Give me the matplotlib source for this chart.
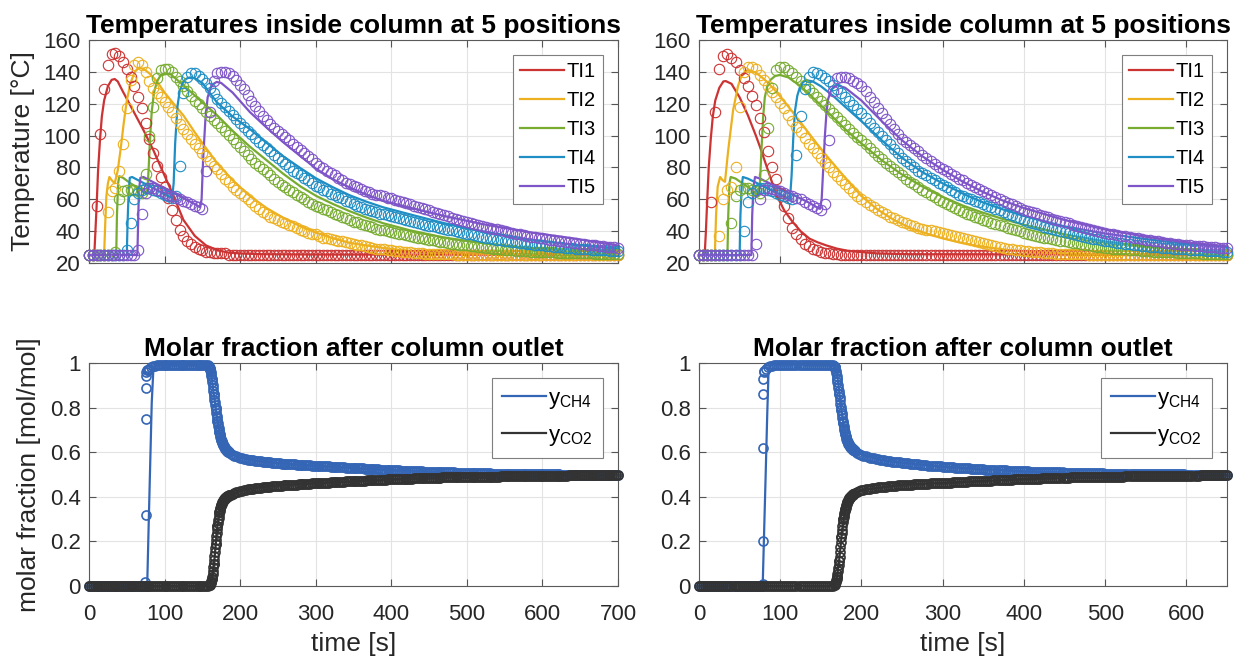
import numpy as np
import matplotlib
matplotlib.use("Agg")
import matplotlib.pyplot as plt

plt.rcParams["font.family"] = ["Liberation Sans", "DejaVu Sans"]
plt.rcParams["mathtext.default"] = "regular"

# ------------------------------------------------------------------
# Data
# ------------------------------------------------------------------
sensor_names = ["TI1", "TI2", "TI3", "TI4", "TI5"]
sensor_colors = ["#CC3333", "#EDB120", "#77AC30", "#1F8EC4", "#7E55C8"]
ch4_color = "#3566B5"
co2_color = "#333333"

dt_temp = 5.0    # sampling interval of the thermocouples [s]
dt_frac = 2.5    # sampling interval of the gas analyser [s]
dt_fast = 0.5    # analyser interval while the outlet composition changes quickly [s]

# ---- Run A (0-700 s): measured temperatures [degC] ----
ti1_meas_a = [25, 25, 56, 101, 129, 144, 151, 152, 150, 146, 142, 137, 131, 124, 117, 108, 98, 89, 81, 74,
              68, 61, 53, 47, 41, 37, 34, 32, 30, 29, 28, 27, 27, 26, 26, 26, 26, 25, 25, 25,
              25, 25, 25, 25, 25, 25, 25, 25, 25, 25, 25, 25, 25, 25, 25, 25, 25, 25, 25, 25,
              25, 25, 25, 25, 25, 25, 25, 25, 25, 25, 25, 25, 25, 25, 25, 25, 25, 25, 25, 25,
              25, 25, 25, 25, 25, 25, 25, 25, 25, 25, 25, 25, 25, 25, 25, 25, 25, 25, 25, 25,
              25, 25, 25, 25, 25, 25, 25, 25, 25, 25, 25, 25, 25, 25, 25, 25, 25, 25, 25, 25,
              25, 25, 25, 25, 25, 25, 25, 25, 25, 25, 25, 25, 25, 25, 25, 25, 25, 25, 25, 25, 25]
ti2_meas_a = [25, 25, 25, 25, 25, 52, 65, 67, 78, 95, 117, 135, 144, 146, 144, 140, 134, 130, 127, 124,
              121, 118, 115, 111, 107, 104, 101, 98, 95, 92, 89, 87, 84, 81, 79, 76, 73, 71, 68, 66,
              64, 62, 60, 58, 56, 54, 52, 51, 49, 48, 47, 46, 45, 44, 43, 42, 41, 40, 39, 38.5,
              38, 37, 36, 35.5, 35, 34.5, 34, 33.5, 33, 32.5, 32, 31.5, 31, 30.5, 30, 29.5, 29, 28.8, 28.5, 28.2,
              28, 27.7, 27.4, 27.1, 26.8, 26.6, 26.4, 26.2, 26, 25.9, 25.8, 25.7, 25.6, 25.5, 25.5, 25.4, 25.4, 25.3, 25.3, 25.3,
              25, 25, 25, 25, 25, 25, 25, 25, 25, 25, 25, 25, 25, 25, 25, 25, 25, 25, 25, 25,
              25, 25, 25, 25, 25, 25, 25, 25, 25, 25, 25, 25, 25, 25, 25, 25, 25, 25, 25, 25, 25]
ti3_meas_a = [25, 25, 25, 25, 25, 25, 25, 27, 60, 65, 66, 66, 66, 65, 64, 76, 100, 118, 136, 141,
              142, 142, 140, 137, 134, 131, 128, 125, 122, 120, 117, 115, 112, 110, 108, 105.5, 103, 100.5, 98, 95.5,
              93, 90.5, 88, 85.5, 83, 81, 79, 77, 75, 73, 71, 69, 67.5, 66, 64.5, 63, 61.5, 60, 58.5, 57,
              56, 55, 54, 53, 52, 51, 50, 49, 48, 47, 46, 45.5, 44.5, 44, 43, 42.5, 41.5, 41, 40.5, 40,
              39.5, 39, 38.5, 38, 37.5, 37, 36.5, 36, 35.5, 35, 34.6, 34.2, 33.8, 33.4, 33, 32.6, 32.2, 31.9, 31.6, 31.3,
              31, 30.7, 30.4, 30.1, 29.8, 29.5, 29.2, 29, 28.8, 28.6, 28.4, 28.2, 28, 27.8, 27.6, 27.5, 27.4, 27.2, 27.1, 27,
              26.9, 26.8, 26.7, 26.6, 26.5, 26.4, 26.3, 26.3, 26.2, 26.1, 26.1, 26, 26, 26, 25.9, 25.9, 25.9, 25.8, 25.8, 25.8, 25.8]
ti4_meas_a = [25, 25, 25, 25, 25, 25, 25, 25, 25, 25, 28, 45, 60, 64, 66, 67, 67, 66, 65, 64,
              63, 62, 61, 62, 81, 127, 137, 139, 139, 137.5, 135.5, 133, 130, 126.5, 123, 120.5, 118, 115.5, 113, 110.5,
              108, 105.5, 103, 101, 98.5, 96, 94, 92, 90, 88, 86, 84, 82, 80, 78, 76.5, 75, 73.5, 72, 70,
              68.5, 67.5, 66, 65, 63.5, 62.5, 61.5, 60.5, 59, 58, 57, 56, 55, 54, 53.5, 52.5, 52, 51, 50.5, 50,
              49.5, 49, 48, 47.5, 47, 46.3, 45.5, 45, 44.5, 44, 43.5, 43, 42.5, 42, 41.5, 41, 40.5, 40, 39.5, 39,
              38.5, 38, 37.5, 37, 36.5, 36, 35.5, 35, 34.7, 34.3, 34, 33.6, 33.3, 33, 32.6, 32.3, 32, 31.7, 31.5, 31.2,
              31, 30.7, 30.5, 30.3, 30, 29.8, 29.6, 29.4, 29.2, 29, 28.8, 28.7, 28.5, 28.4, 28.2, 28.1, 28, 27.9, 27.8, 27.7, 27.6]
ti5_meas_a = [25, 25, 25, 25, 25, 25, 25, 25, 25, 25, 25, 25, 25, 28, 51, 64, 67, 67, 66, 65,
              64, 63, 62, 61, 60, 59, 58, 57, 56, 55, 54, 78, 115, 134, 139, 140, 140, 139, 137.5, 135,
              132, 129, 125.5, 122, 118.5, 115.5, 112.5, 110, 107.5, 105, 103, 101, 99, 97, 95, 93, 91, 89, 87, 85,
              83, 81, 79.5, 78, 76.5, 75, 73.5, 72, 70.5, 69.5, 68.5, 67.5, 66.5, 65.5, 64.5, 63.5, 63, 62.5, 62, 61,
              60.5, 59.5, 59, 58, 57.5, 57, 56, 55.3, 54.5, 53.7, 53, 52.3, 51.5, 50.8, 50, 49.3, 48.5, 47.8, 47, 46.3,
              45.7, 45, 44.5, 43.9, 43.3, 42.7, 42.2, 41.6, 41.1, 40.5, 40, 39.5, 39, 38.5, 38, 37.5, 37, 36.6, 36.2, 35.8,
              35.4, 35, 34.6, 34.2, 33.9, 33.5, 33.2, 32.9, 32.6, 32.3, 32, 31.7, 31.5, 31.2, 31, 30.7, 30.5, 30.2, 30, 29.8, 29.6]

# ---- Run A: simulated temperatures (time [s], value [degC]) ----
ti1_sim_a_t = [0, 7, 8.5, 10, 12, 14.5, 17, 20, 25, 30, 34, 38, 45, 58, 72, 85, 98, 112, 125, 140, 155, 170, 185, 200, 230, 300, 700]
ti1_sim_a = [25, 25, 40, 55, 78, 97, 112, 122, 131, 135, 135.5, 134, 127.5, 116, 103.5, 91, 77, 62, 47, 37, 31, 28, 26.5, 26, 25.5, 25.3, 25.2]
ti2_sim_a_t = [0, 20, 21.5, 23, 25, 27, 30, 34, 38, 42, 46, 50, 55, 60, 65, 72, 80, 90, 100, 112, 125, 140, 155, 169, 190,
               213, 235, 257, 280, 301, 323, 345, 367, 389, 425, 470, 520, 600, 700]
ti2_sim_a = [25, 25, 45, 62, 70, 74, 72, 70, 78, 92, 108, 122, 133, 139.5, 142.5, 142, 139, 134, 127, 120, 112.6, 102, 92, 83, 72,
             62, 54.5, 48.4, 43, 39, 35.5, 32.6, 31, 29.5, 27.4, 26.3, 25.8, 25.5, 25.3]
ti3_sim_a_t = [0, 36, 37, 38.5, 40, 45, 55, 65, 75, 77, 79, 81, 83, 86, 90, 95, 100, 108, 125, 145, 169, 190, 213, 235,
               257, 280, 301, 323, 345, 367, 389, 425, 470, 520, 580, 640, 700]
ti3_sim_a = [25, 25, 50, 70, 74.5, 73.5, 70, 67, 64, 63, 80, 100, 115, 127, 134, 138, 139, 138.5, 131.6, 123, 113, 103, 93, 84.5,
             76, 68, 62, 57, 52.5, 48.5, 45, 40.5, 36, 32.5, 29.5, 27.8, 26.8]
ti4_sim_a_t = [0, 50, 51, 52.5, 54, 57, 65, 75, 85, 95, 105, 110, 112, 114, 117, 120, 124, 128, 133, 140, 150, 169, 190,
               213, 235, 257, 280, 301, 323, 345, 367, 389, 425, 470, 520, 580, 640, 700]
ti4_sim_a = [25, 25, 45, 65, 73.5, 74, 72, 69.5, 67, 64.5, 62, 61, 70, 95, 118, 128, 133, 135.5, 136.5, 136, 133, 121, 112,
             104, 95.5, 87, 79.5, 73, 67.5, 62.5, 58.5, 55, 50.5, 45, 40, 35, 31.5, 29]
ti5_sim_a_t = [0, 64, 65, 66, 68, 72, 80, 90, 100, 110, 120, 130, 140, 147, 149, 151, 154, 157, 161, 165, 169, 175, 190,
               213, 235, 257, 280, 301, 323, 345, 367, 389, 425, 470, 520, 580, 640, 700]
ti5_sim_a = [25, 25, 45, 65, 73.5, 74, 72, 69.5, 67, 64.5, 62, 59.5, 57, 55, 60, 85, 110, 124, 130, 132.5, 133.7, 133, 127,
             114.7, 105, 95.8, 87, 79, 72.5, 67.4, 63, 59, 54.7, 49.5, 44.5, 39.5, 35.5, 31]

# ---- Run B (0-650 s): measured temperatures [degC] ----
ti1_meas_b = [25, 25, 25, 58, 115, 142, 150, 151, 149, 146, 141, 136, 131, 125, 119, 111, 102, 90, 80, 73,
              64, 56, 48, 42, 38, 35, 32, 30.5, 29, 28, 27, 26.5, 26, 25.5, 25.5, 25, 25, 25, 25, 25,
              25, 25, 25, 25, 25, 25, 25, 25, 25, 25, 25, 25, 25, 25, 25, 25, 25, 25, 25, 25,
              25, 25, 25, 25, 25, 25, 25, 25, 25, 25, 25, 25, 25, 25, 25, 25, 25, 25, 25, 25,
              25, 25, 25, 25, 25, 25, 25, 25, 25, 25, 25, 25, 25, 25, 25, 25, 25, 25, 25, 25,
              25, 25, 25, 25, 25, 25, 25, 25, 25, 25, 25, 25, 25, 25, 25, 25, 25, 25, 25, 25,
              25, 25, 25, 25, 25, 25, 25, 25, 25, 25, 25]
ti2_meas_b = [25, 25, 25, 25, 25, 37, 60, 66, 68, 80, 118, 140, 143, 143, 142, 138, 135, 131, 127.5, 124,
              120.5, 117, 113, 109, 105.5, 102, 98.5, 95, 92, 89, 86, 83, 80, 77, 74.5, 72, 69.5, 67, 64.5, 62,
              60, 58, 56.5, 55, 53.5, 52, 50.5, 49, 48, 47, 46, 45, 44, 43, 42, 41.5, 41, 40.5, 40, 39.5,
              39, 38.3, 37.6, 37, 36.3, 35.6, 35, 34.3, 33.6, 33, 32.4, 31.8, 31.2, 30.6, 30, 29.5, 29, 28.6, 28.2, 27.9,
              27.6, 27.3, 27, 26.8, 26.6, 26.4, 26.2, 26, 25.9, 25.8, 25.7, 25.6, 25.5, 25.5, 25.4, 25.4, 25.3, 25.3, 25.3, 25.2,
              25, 25, 25, 25, 25, 25, 25, 25, 25, 25, 25, 25, 25, 25, 25, 25, 25, 25, 25, 25,
              25, 25, 25, 25, 25, 25, 25, 25, 25, 25, 25]
ti3_meas_b = [25, 25, 25, 25, 25, 25, 25, 25, 45, 62, 66, 67, 67, 66, 65, 64, 75, 105, 130, 141,
              143, 143, 141, 139, 136.5, 134, 131.5, 129, 126.5, 124, 121.5, 119, 116.5, 114, 111.5, 109, 106.5, 104, 101.5, 99,
              97, 94.5, 92, 89.5, 87, 85, 83, 81, 79, 77, 75, 73, 71, 69.5, 68, 66, 64.5, 63, 61.5, 59.5,
              58, 56.8, 55.6, 54.4, 53.2, 52, 51, 50, 49, 48, 47, 46.2, 45.4, 44.6, 43.8, 43, 42.2, 41.4, 40.6, 39.8,
              39, 38.4, 37.8, 37.2, 36.6, 36, 35.5, 35, 34.5, 34, 33.5, 33.1, 32.7, 32.3, 31.9, 31.5, 31.1, 30.7, 30.3, 29.9,
              29.5, 29.3, 29.1, 28.9, 28.7, 28.5, 28.3, 28.1, 27.9, 27.7, 27.5, 27.4, 27.2, 27.1, 26.9, 26.8, 26.7, 26.6, 26.5, 26.4,
              26.3, 26.2, 26.1, 26, 25.9, 25.8, 25.7, 25.7, 25.6, 25.6, 25.5]
ti4_meas_b = [25, 25, 25, 25, 25, 25, 25, 25, 25, 25, 25, 40, 58, 64, 66, 67, 67, 66, 65, 64,
              63, 62, 61, 60, 88, 112, 129, 137, 140, 139.5, 138, 136, 134, 131.5, 129, 126.5, 124, 121.5, 119, 116.5,
              114, 111, 108, 105, 102.5, 100, 97, 94.5, 91.5, 89, 86, 84, 82, 80, 78, 76.5, 75, 73.5, 72, 70.5,
              69, 67.5, 66, 64.5, 63, 62, 61, 60, 59, 58, 57, 56, 55, 54, 53, 52, 51, 50, 49, 48,
              47, 46, 45.2, 44.4, 43.6, 42.8, 42, 41.3, 40.6, 39.9, 39.2, 38.6, 38, 37.4, 36.8, 36.3, 35.8, 35.3, 34.8, 34.4,
              34, 33.6, 33.2, 32.8, 32.4, 32, 31.7, 31.4, 31.1, 30.8, 30.5, 30.2, 30, 29.8, 29.6, 29.4, 29.2, 29, 28.9, 28.8,
              28.6, 28.4, 28.2, 28, 27.9, 27.7, 27.5, 27.4, 27.3, 27.1, 27]
ti5_meas_b = [25, 25, 25, 25, 25, 25, 25, 25, 25, 25, 25, 25, 25, 25, 32, 60, 66, 67, 66.5, 66,
              65, 64, 63, 62, 61, 60, 58.5, 57, 56, 54.5, 53, 57, 97, 128, 136, 137, 137, 136, 134.5, 133,
              131, 128, 124.5, 121, 117.5, 114, 110.5, 107, 104, 101, 98, 96, 94, 92, 90, 88, 86, 84, 82, 80.5,
              79, 77.5, 76, 74.5, 73, 72, 70.5, 69, 67.8, 66.6, 65.5, 64.2, 62.9, 61.6, 60.3, 59, 57.9, 56.8, 55.7, 54.6,
              53.5, 52.7, 51.9, 51.1, 50.3, 49.5, 48.7, 47.9, 47.1, 46.3, 45.5, 44.8, 44.1, 43.4, 42.7, 42, 41.4, 40.8, 40.2, 39.6,
              39, 38.5, 38, 37.6, 37.2, 36.7, 36.3, 35.8, 35.4, 35, 34.5, 34.2, 33.8, 33.5, 33.1, 32.8, 32.5, 32.2, 31.9, 31.6,
              31.3, 31.1, 30.9, 30.7, 30.5, 30.3, 30.1, 29.9, 29.7, 29.5, 29.2]

# ---- Run B: simulated temperatures ----
ti1_sim_b_t = [0, 7, 8.5, 10, 12, 14.5, 17, 20, 25, 30, 33, 40, 50, 60, 70, 75, 85, 95, 105, 115, 125, 136, 146, 157, 170, 185, 198, 220, 260, 650]
ti1_sim_b = [25, 25, 40, 58, 80, 98, 112, 122, 130, 134, 134.2, 132.5, 124, 113, 100, 93, 78, 63, 53, 46, 40, 35.3, 33, 31, 29, 27.5, 26.9, 26, 25.5, 25.2]
ti2_sim_b_t = [0, 19.5, 21, 23, 26, 29, 32, 36, 42, 48, 52, 57, 62, 70, 80, 90, 100, 115, 130, 145, 160, 180, 200, 220, 240,
               260, 280, 300, 320, 340, 360, 380, 400, 440, 500, 650]
ti2_sim_b = [25, 25, 50, 68, 74, 72, 71, 91, 116, 131, 137, 140.5, 141, 139.5, 135.5, 130.5, 124.5, 115, 105, 95, 85.5, 73.5, 62, 53.5, 47,
             42, 38.5, 35.5, 33, 31, 29.5, 28.2, 27.3, 26.2, 25.5, 25.2]
ti3_sim_b_t = [0, 35, 36, 37.5, 39, 45, 55, 65, 73, 75, 77, 79, 81, 84, 88, 94, 100, 110, 125, 140, 160, 180, 200, 225, 250,
               275, 300, 325, 350, 375, 400, 450, 500, 550, 600, 650]
ti3_sim_b = [25, 25, 50, 70, 74, 73, 69.5, 66, 62, 70, 92, 112, 124, 131, 135, 137.5, 138, 136.5, 131, 124, 114, 104, 95, 84.5, 75.5,
             68, 61.5, 56, 51.5, 47.5, 44, 38, 33.5, 30.5, 28.5, 27.3]
ti4_sim_b_t = [0, 50, 51, 52.5, 54, 60, 70, 80, 90, 100, 112, 114, 116, 118, 121, 124, 128, 132, 140, 150, 165, 180, 200, 225,
               250, 275, 300, 325, 350, 375, 400, 450, 500, 550, 600, 650]
ti4_sim_b = [25, 25, 50, 68, 74, 73, 70.5, 68, 65.5, 63, 60, 75, 98, 115, 125, 130, 133.5, 134.8, 134, 131, 125, 118, 109, 97,
             86, 77, 70, 63.5, 58, 53.5, 49.5, 43, 38.5, 35, 32, 30]
ti5_sim_b_t = [0, 64.5, 65.5, 67, 69, 75, 85, 95, 105, 115, 125, 135, 145, 149, 151, 153, 155, 157, 159, 163, 170, 180, 200,
               225, 250, 275, 300, 325, 350, 375, 400, 450, 500, 550, 600, 650]
ti5_sim_b = [25, 25, 50, 68, 74, 73, 70.5, 68, 65.5, 63, 60.5, 58, 55, 54, 60, 80, 100, 115, 123, 129, 131.6, 130, 122,
             109, 97, 87, 78.5, 71, 64.5, 59, 54.5, 47, 41, 36.5, 33, 30.5]

# ---- Run A: outlet molar fractions, measured every 2.5 s ----
y_ch4_meas_a = [0, 0, 0, 0, 0, 0, 0, 0, 0, 0, 0, 0, 0, 0, 0, 0, 0, 0, 0, 0, 0, 0, 0, 0, 0, 0, 0, 0, 0, 0, 0,
                0.97, 0.975, 0.98, 0.985, 0.988, 0.99, 0.99, 0.99, 0.99,
                0.99, 0.99, 0.99, 0.99, 0.99, 0.99, 0.99, 0.99, 0.99, 0.99, 0.99, 0.99, 0.99, 0.99, 0.99, 0.99, 0.99, 0.99, 0.99, 0.99, 0.99, 0.99, 0.99, 0.99,
                0.975, 0.93, 0.86, 0.8, 0.74, 0.69, 0.655, 0.632, 0.617, 0.607, 0.6, 0.594, 0.589, 0.585, 0.581, 0.578,
                0.575, 0.573, 0.571, 0.569, 0.567, 0.566, 0.564, 0.563, 0.562, 0.561, 0.56, 0.559, 0.558, 0.557, 0.556, 0.555, 0.554, 0.553, 0.552, 0.551,
                0.551, 0.55, 0.549, 0.548, 0.548, 0.547, 0.546, 0.546, 0.545, 0.545, 0.544, 0.544, 0.543, 0.543, 0.542, 0.542, 0.541, 0.541, 0.54, 0.54,
                0.539, 0.539, 0.538, 0.538, 0.537, 0.537, 0.536, 0.536, 0.535, 0.535, 0.534, 0.534, 0.533, 0.533, 0.532, 0.532, 0.531, 0.531, 0.53, 0.53,
                0.529, 0.529, 0.528, 0.528, 0.527, 0.527, 0.526, 0.526, 0.525, 0.525, 0.524, 0.524, 0.523, 0.523, 0.522, 0.522, 0.521, 0.521, 0.52, 0.52,
                0.519, 0.519, 0.518, 0.518, 0.518, 0.517, 0.517, 0.517, 0.516, 0.516, 0.516, 0.515, 0.515, 0.515, 0.514, 0.514, 0.514, 0.513, 0.513, 0.513,
                0.512, 0.512, 0.512, 0.511, 0.511, 0.511, 0.51, 0.51, 0.51, 0.51, 0.509, 0.509, 0.509, 0.509, 0.508, 0.508, 0.508, 0.508, 0.507, 0.507,
                0.507, 0.507, 0.507, 0.506, 0.506, 0.506, 0.506, 0.506, 0.505, 0.505, 0.505, 0.505, 0.505, 0.504, 0.504, 0.504, 0.504, 0.504, 0.504, 0.503,
                0.503, 0.503, 0.503, 0.503, 0.503, 0.503, 0.502, 0.502, 0.502, 0.502, 0.502, 0.502, 0.502, 0.502, 0.501, 0.501, 0.501, 0.501, 0.501, 0.501,
                0.501, 0.501, 0.501, 0.501, 0.501, 0.501, 0.501, 0.501, 0.501, 0.501, 0.5, 0.5, 0.5, 0.5, 0.5, 0.5, 0.5, 0.5, 0.5, 0.5,
                0.5, 0.5, 0.5, 0.5, 0.5, 0.5, 0.5, 0.5, 0.5, 0.5, 0.5, 0.5, 0.5, 0.5, 0.5, 0.5, 0.5, 0.5, 0.5, 0.5, 0.5]
y_co2_meas_a = [0, 0, 0, 0, 0, 0, 0, 0, 0, 0, 0, 0, 0, 0, 0, 0, 0, 0, 0, 0, 0, 0, 0, 0, 0, 0, 0, 0, 0, 0, 0, 0, 0, 0, 0, 0, 0, 0, 0, 0,
                0, 0, 0, 0, 0, 0, 0, 0, 0, 0, 0, 0, 0, 0, 0, 0, 0, 0, 0, 0, 0, 0, 0, 0,
                0.005, 0.03, 0.1, 0.19, 0.27, 0.33, 0.365, 0.383, 0.394, 0.401, 0.406, 0.41, 0.414, 0.417, 0.42, 0.423,
                0.426, 0.428, 0.43, 0.431, 0.433, 0.434, 0.436, 0.437, 0.438, 0.439, 0.44, 0.441, 0.442, 0.443, 0.444, 0.445, 0.446, 0.447, 0.448, 0.448,
                0.449, 0.45, 0.45, 0.451, 0.452, 0.452, 0.453, 0.454, 0.454, 0.455, 0.455, 0.456, 0.457, 0.457, 0.458, 0.458, 0.459, 0.459, 0.46, 0.46,
                0.461, 0.461, 0.462, 0.462, 0.463, 0.463, 0.464, 0.464, 0.465, 0.465, 0.466, 0.466, 0.467, 0.467, 0.468, 0.468, 0.469, 0.469, 0.47, 0.47,
                0.471, 0.471, 0.472, 0.472, 0.472, 0.473, 0.473, 0.474, 0.474, 0.474, 0.475, 0.475, 0.476, 0.476, 0.476, 0.477, 0.477, 0.477, 0.478, 0.478,
                0.479, 0.479, 0.479, 0.48, 0.48, 0.48, 0.481, 0.481, 0.481, 0.482, 0.482, 0.482, 0.483, 0.483, 0.483, 0.483, 0.484, 0.484, 0.484, 0.485,
                0.485, 0.485, 0.485, 0.486, 0.486, 0.486, 0.486, 0.487, 0.487, 0.487, 0.487, 0.488, 0.488, 0.488, 0.488, 0.488, 0.489, 0.489, 0.489, 0.489,
                0.49, 0.49, 0.49, 0.49, 0.49, 0.49, 0.49, 0.49, 0.49, 0.49, 0.491, 0.491, 0.491, 0.491, 0.491, 0.491, 0.491, 0.491, 0.492, 0.492,
                0.492, 0.492, 0.492, 0.492, 0.492, 0.492, 0.493, 0.493, 0.493, 0.493, 0.493, 0.493, 0.493, 0.494, 0.494, 0.494, 0.494, 0.494, 0.494, 0.494,
                0.495, 0.495, 0.495, 0.495, 0.495, 0.495, 0.495, 0.495, 0.495, 0.495, 0.495, 0.495, 0.495, 0.495, 0.496, 0.496, 0.496, 0.496, 0.496, 0.496,
                0.496, 0.496, 0.496, 0.496, 0.496, 0.496, 0.496, 0.496, 0.497, 0.497, 0.497, 0.497, 0.497, 0.497, 0.497, 0.497, 0.497, 0.497, 0.497, 0.497, 0.497]
# breakthrough of CH4 (time [s], fraction)
ch4_front_a_t = [74.5, 74.8, 75.1, 75.4, 75.7, 76.0, 76.4]
ch4_front_a = [0.02, 0.32, 0.75, 0.89, 0.94, 0.96, 0.97]
# CH4 drop, sampled every 0.5 s from 158 s
ch4_drop_a_t0 = 158.0
ch4_drop_a = [0.988, 0.986, 0.983, 0.979, 0.975, 0.968, 0.96, 0.951, 0.941, 0.93, 0.917, 0.903, 0.889, 0.875, 0.86,
              0.848, 0.836, 0.824, 0.812, 0.8, 0.788, 0.776, 0.764, 0.752, 0.74, 0.73, 0.719, 0.709, 0.699, 0.69,
              0.682, 0.675, 0.668, 0.661, 0.655, 0.65, 0.645, 0.64, 0.636, 0.632, 0.629, 0.626, 0.623, 0.62, 0.617,
              0.615, 0.613, 0.611, 0.609, 0.607, 0.605, 0.604, 0.602, 0.601, 0.6]
# CO2 breakthrough, sampled every 0.5 s from 160 s
co2_rise_a_t0 = 160.0
co2_rise_a = [0.005, 0.008, 0.012, 0.018, 0.024, 0.03, 0.04, 0.053, 0.068, 0.084, 0.1, 0.118, 0.136, 0.154, 0.172,
              0.19, 0.206, 0.222, 0.238, 0.254, 0.27, 0.283, 0.295, 0.307, 0.319, 0.33, 0.338, 0.345, 0.352, 0.359,
              0.365, 0.369, 0.373, 0.377, 0.38, 0.383, 0.385, 0.388, 0.39, 0.392, 0.394, 0.395, 0.397, 0.398, 0.4,
              0.401, 0.402, 0.403, 0.404, 0.405, 0.406]

# ---- Run A: simulated molar fractions ----
y_ch4_sim_a_t = [0, 77, 79, 81, 83, 85, 88, 157, 160, 163, 166, 169, 172, 175, 178, 182, 186, 190, 200, 220, 250, 300, 400, 500, 600, 700]
y_ch4_sim_a = [0, 0, 0.28, 0.55, 0.82, 0.96, 0.99, 0.99, 0.975, 0.92, 0.84, 0.76, 0.7, 0.66, 0.632, 0.612, 0.6, 0.59, 0.575, 0.562, 0.551, 0.539, 0.519, 0.507, 0.501, 0.5]
y_co2_sim_a_t = [0, 160, 162, 164, 166, 168, 170, 172, 174, 177, 180, 185, 190, 200, 220, 250, 300, 400, 500, 600, 700]
y_co2_sim_a = [0, 0, 0.02, 0.06, 0.12, 0.2, 0.27, 0.32, 0.35, 0.375, 0.39, 0.405, 0.413, 0.425, 0.44, 0.452, 0.461, 0.479, 0.49, 0.495, 0.498]

# ---- Run B: outlet molar fractions, measured every 2.5 s ----
y_ch4_meas_b = [0, 0, 0, 0, 0, 0, 0, 0, 0, 0, 0, 0, 0, 0, 0, 0, 0, 0, 0, 0, 0, 0, 0, 0, 0, 0, 0, 0, 0, 0, 0, 0,
                0.965, 0.975, 0.98, 0.985, 0.988, 0.99, 0.99, 0.99,
                0.99, 0.99, 0.99, 0.99, 0.99, 0.99, 0.99, 0.99, 0.99, 0.99, 0.99, 0.99, 0.99, 0.99, 0.99, 0.99, 0.99, 0.99, 0.99, 0.99, 0.99, 0.99, 0.99, 0.99, 0.99, 0.99, 0.99,
                0.98, 0.93, 0.86, 0.79, 0.73, 0.68, 0.65, 0.632, 0.62, 0.611, 0.604, 0.598, 0.593,
                0.589, 0.585, 0.582, 0.579, 0.576, 0.574, 0.572, 0.57, 0.568, 0.567, 0.565, 0.564, 0.562, 0.561, 0.56, 0.558, 0.557, 0.556, 0.555, 0.554,
                0.553, 0.552, 0.551, 0.55, 0.549, 0.548, 0.547, 0.546, 0.545, 0.544, 0.543, 0.542, 0.541, 0.54, 0.539, 0.539, 0.538, 0.537, 0.536, 0.536,
                0.535, 0.534, 0.534, 0.533, 0.532, 0.532, 0.531, 0.53, 0.53, 0.529, 0.528, 0.528, 0.527, 0.527, 0.526, 0.525, 0.525, 0.524, 0.524, 0.523,
                0.523, 0.522, 0.522, 0.521, 0.521, 0.52, 0.52, 0.519, 0.519, 0.518, 0.518, 0.518, 0.517, 0.517, 0.516, 0.516, 0.516, 0.515, 0.515, 0.515,
                0.514, 0.514, 0.514, 0.513, 0.513, 0.513, 0.512, 0.512, 0.512, 0.511, 0.511, 0.511, 0.51, 0.51, 0.51, 0.51, 0.509, 0.509, 0.509, 0.509,
                0.508, 0.508, 0.508, 0.508, 0.507, 0.507, 0.507, 0.507, 0.507, 0.506, 0.506, 0.506, 0.506, 0.506, 0.505, 0.505, 0.505, 0.505, 0.505, 0.505,
                0.504, 0.504, 0.504, 0.504, 0.504, 0.504, 0.504, 0.504, 0.504, 0.504, 0.503, 0.503, 0.503, 0.503, 0.503, 0.503, 0.503, 0.503, 0.503, 0.503,
                0.502, 0.502, 0.502, 0.502, 0.502, 0.502, 0.502, 0.502, 0.502, 0.502, 0.501, 0.501, 0.501, 0.501, 0.501, 0.501, 0.501, 0.501, 0.501, 0.501,
                0.5, 0.5, 0.5, 0.5, 0.5, 0.5, 0.5, 0.5, 0.5, 0.5, 0.5, 0.499, 0.499, 0.499, 0.499, 0.499, 0.499, 0.499, 0.499, 0.499, 0.499]
y_co2_meas_b = [0, 0, 0, 0, 0, 0, 0, 0, 0, 0, 0, 0, 0, 0, 0, 0, 0, 0, 0, 0, 0, 0, 0, 0, 0, 0, 0, 0, 0, 0, 0, 0, 0, 0, 0, 0, 0, 0, 0, 0,
                0, 0, 0, 0, 0, 0, 0, 0, 0, 0, 0, 0, 0, 0, 0, 0, 0, 0, 0, 0, 0, 0, 0, 0, 0, 0, 0,
                0.01, 0.04, 0.11, 0.22, 0.3, 0.345, 0.375, 0.393, 0.405, 0.412, 0.418, 0.422, 0.426,
                0.429, 0.431, 0.433, 0.435, 0.437, 0.438, 0.44, 0.441, 0.442, 0.443, 0.444, 0.445, 0.446, 0.447, 0.448, 0.449, 0.45, 0.45, 0.451, 0.452,
                0.452, 0.453, 0.454, 0.454, 0.455, 0.455, 0.456, 0.456, 0.457, 0.457, 0.458, 0.458, 0.459, 0.459, 0.46, 0.46, 0.46, 0.461, 0.461, 0.462,
                0.462, 0.463, 0.463, 0.464, 0.464, 0.465, 0.465, 0.466, 0.466, 0.467, 0.467, 0.468, 0.468, 0.469, 0.469, 0.47, 0.47, 0.47, 0.471, 0.471,
                0.472, 0.472, 0.473, 0.473, 0.473, 0.474, 0.474, 0.475, 0.475, 0.475, 0.476, 0.476, 0.477, 0.477, 0.477, 0.478, 0.478, 0.478, 0.479, 0.479,
                0.48, 0.48, 0.48, 0.481, 0.481, 0.481, 0.482, 0.482, 0.482, 0.483, 0.483, 0.483, 0.484, 0.484, 0.484, 0.485, 0.485, 0.485, 0.485, 0.486,
                0.486, 0.486, 0.486, 0.487, 0.487, 0.487, 0.487, 0.488, 0.488, 0.488, 0.488, 0.489, 0.489, 0.489, 0.489, 0.489, 0.49, 0.49, 0.49, 0.49,
                0.491, 0.491, 0.491, 0.491, 0.491, 0.491, 0.491, 0.491, 0.491, 0.491, 0.492, 0.492, 0.492, 0.492, 0.492, 0.492, 0.492, 0.492, 0.492, 0.492,
                0.493, 0.493, 0.493, 0.493, 0.493, 0.493, 0.493, 0.493, 0.493, 0.493, 0.494, 0.494, 0.494, 0.494, 0.494, 0.494, 0.494, 0.494, 0.494, 0.494,
                0.495, 0.495, 0.495, 0.495, 0.495, 0.495, 0.495, 0.496, 0.496, 0.496, 0.496, 0.496, 0.496, 0.496, 0.497, 0.497, 0.497, 0.497, 0.497, 0.497, 0.497]
ch4_front_b_t = [78.2, 78.5, 78.8, 79.1, 79.4, 79.7]
ch4_front_b = [0.01, 0.2, 0.62, 0.86, 0.93, 0.96]
ch4_drop_b_t0 = 166.0
ch4_drop_b = [0.988, 0.986, 0.983, 0.98, 0.973, 0.964, 0.954, 0.943, 0.93, 0.917, 0.903, 0.889, 0.874, 0.86,
              0.846, 0.832, 0.818, 0.804, 0.79, 0.778, 0.766, 0.754, 0.742, 0.73, 0.719, 0.709, 0.699, 0.689,
              0.68, 0.673, 0.667, 0.661, 0.655, 0.65, 0.646, 0.642, 0.638, 0.635, 0.632, 0.629, 0.627, 0.624,
              0.622, 0.62, 0.618, 0.616, 0.614, 0.613, 0.611, 0.61, 0.608, 0.607, 0.606]
co2_rise_b_t0 = 167.0
co2_rise_b = [0.006, 0.01, 0.014, 0.019, 0.025, 0.032, 0.04, 0.052, 0.066, 0.08, 0.095, 0.11, 0.131, 0.153,
              0.175, 0.198, 0.22, 0.237, 0.253, 0.269, 0.285, 0.3, 0.31, 0.319, 0.328, 0.337, 0.345, 0.351,
              0.357, 0.363, 0.369, 0.375, 0.379, 0.382, 0.386, 0.389, 0.393, 0.395, 0.398, 0.4, 0.403, 0.405,
              0.406, 0.408, 0.409, 0.411, 0.412]

# ---- Run B: simulated molar fractions ----
y_ch4_sim_b_t = [0, 78.4, 80, 82, 84, 85.5, 88, 91, 167, 170, 173, 176, 179, 182, 186, 190, 200, 225, 250, 300, 400, 500, 650]
y_ch4_sim_b = [0, 0, 0.22, 0.49, 0.77, 0.95, 0.99, 0.995, 0.99, 0.95, 0.86, 0.77, 0.7, 0.655, 0.625, 0.61, 0.589, 0.565, 0.553, 0.535, 0.514, 0.504, 0.499]
y_co2_sim_b_t = [0, 167, 170, 173, 176, 179, 182, 186, 190, 200, 250, 300, 400, 500, 650]
y_co2_sim_b = [0, 0, 0.04, 0.13, 0.24, 0.32, 0.365, 0.395, 0.41, 0.429, 0.455, 0.462, 0.48, 0.49, 0.497]

temp_ticks = [20, 40, 60, 80, 100, 120, 140, 160]
frac_ticks = [0, 0.2, 0.4, 0.6, 0.8, 1]
frac_tick_labels = ["0", "0.2", "0.4", "0.6", "0.8", "1"]

# ------------------------------------------------------------------
# Figure
# ------------------------------------------------------------------
W, H = 1243, 659
fig = plt.figure(figsize=(W / 100, H / 100), dpi=100)


def add_axes_px(left, top, right, bottom):
    return fig.add_axes([left / W, 1 - bottom / H, (right - left) / W, (bottom - top) / H])


ax_ta = add_axes_px(89, 40, 618, 263)
ax_tb = add_axes_px(699, 40, 1227, 263)
ax_fa = add_axes_px(89, 363, 618, 586)
ax_fb = add_axes_px(699, 363, 1227, 586)

TEXT = "#262626"


def style_axes(ax, xmax, yticks, ylim):
    ax.set_xlim(0, xmax)
    ax.set_ylim(*ylim)
    ax.set_xticks(np.arange(0, xmax + 1, 100))
    ax.set_yticks(yticks)
    ax.grid(True, color="#e3e3e3", linewidth=0.8)
    ax.set_axisbelow(True)
    ax.tick_params(direction="in", top=True, right=True, length=5, width=0.8,
                   colors="#555555", labelcolor=TEXT, labelsize=16)
    ax.tick_params(axis="x", pad=13)
    ax.tick_params(axis="y", pad=6)
    for sp in ax.spines.values():
        sp.set_color("#5a5a5a")
        sp.set_linewidth(0.8)


def temperature_panel(ax, meas, sims, xmax):
    for (ts, vs), col, name in zip(sims, sensor_colors, sensor_names):
        ax.plot(ts, vs, "-", color=col, lw=1.6, label=name, zorder=3)
    for vs, col in zip(meas, sensor_colors):
        tt = dt_temp * np.arange(len(vs))
        ax.plot(tt, vs, "o", ms=7.5, mfc="none", mec=col, mew=0.8, clip_on=False, zorder=4)
    style_axes(ax, xmax, temp_ticks, (20, 160))
    ax.tick_params(axis="x", labelbottom=False)
    ax.set_title("Temperatures inside column at 5 positions", fontsize=19,
                 fontweight="bold", pad=5, color="black")
    leg = ax.legend(loc="upper right", bbox_to_anchor=(1 - 15 / 529, 1 - 15 / 223),
                    borderaxespad=0, fontsize=14.5, handlelength=2.15, handletextpad=0.15,
                    labelspacing=0.5, borderpad=0.35, fancybox=False, framealpha=1,
                    edgecolor="#7f7f7f")
    leg.get_frame().set_linewidth(0.8)
    leg.set_zorder(10)


def fraction_panel(ax, sims, meas, extra, xmax):
    (t_ch4, ch4), (t_co2, co2) = sims
    ch4_meas, co2_meas = meas
    ax.plot(t_ch4, ch4, "-", color=ch4_color, lw=1.6, label=r"$y_{CH4}$", zorder=3)
    ax.plot(t_co2, co2, "-", color=co2_color, lw=1.6, label=r"$y_{CO2}$", zorder=3)
    mk = dict(ms=6.5, mfc="none", mew=1.2, clip_on=False, zorder=4)
    front_t, front, drop_t0, drop, rise_t0, rise = extra
    ax.plot(dt_frac * np.arange(len(ch4_meas)), ch4_meas, "o", mec=ch4_color, **mk)
    ax.plot(front_t, front, "o", mec=ch4_color, **mk)
    ax.plot(drop_t0 + dt_fast * np.arange(len(drop)), drop, "o", mec=ch4_color, **mk)
    ax.plot(dt_frac * np.arange(len(co2_meas)), co2_meas, "o", mec=co2_color, **mk)
    ax.plot(rise_t0 + dt_fast * np.arange(len(rise)), rise, "o", mec=co2_color, **mk)
    style_axes(ax, xmax, frac_ticks, (0, 1))
    ax.set_yticklabels(frac_tick_labels)
    ax.set_title("Molar fraction after column outlet", fontsize=19,
                 fontweight="bold", pad=5, color="black")
    ax.set_xlabel("time [s]", fontsize=19, color=TEXT, labelpad=5)
    leg = ax.legend(loc="upper right", bbox_to_anchor=(1 - 15 / 529, 1 - 15 / 223),
                    borderaxespad=0, fontsize=16, handlelength=2.0, handletextpad=0.1,
                    labelspacing=0.62, borderpad=0.45, fancybox=False, framealpha=1,
                    edgecolor="#7f7f7f")
    leg.get_frame().set_linewidth(0.8)
    leg.set_zorder(10)


temperature_panel(ax_ta,
                  [ti1_meas_a, ti2_meas_a, ti3_meas_a, ti4_meas_a, ti5_meas_a],
                  [(ti1_sim_a_t, ti1_sim_a), (ti2_sim_a_t, ti2_sim_a), (ti3_sim_a_t, ti3_sim_a),
                   (ti4_sim_a_t, ti4_sim_a), (ti5_sim_a_t, ti5_sim_a)], 700)
temperature_panel(ax_tb,
                  [ti1_meas_b, ti2_meas_b, ti3_meas_b, ti4_meas_b, ti5_meas_b],
                  [(ti1_sim_b_t, ti1_sim_b), (ti2_sim_b_t, ti2_sim_b), (ti3_sim_b_t, ti3_sim_b),
                   (ti4_sim_b_t, ti4_sim_b), (ti5_sim_b_t, ti5_sim_b)], 650)
fraction_panel(ax_fa,
               [(y_ch4_sim_a_t, y_ch4_sim_a), (y_co2_sim_a_t, y_co2_sim_a)],
               [y_ch4_meas_a, y_co2_meas_a],
               (ch4_front_a_t, ch4_front_a, ch4_drop_a_t0, ch4_drop_a, co2_rise_a_t0, co2_rise_a), 700)
fraction_panel(ax_fb,
               [(y_ch4_sim_b_t, y_ch4_sim_b), (y_co2_sim_b_t, y_co2_sim_b)],
               [y_ch4_meas_b, y_co2_meas_b],
               (ch4_front_b_t, ch4_front_b, ch4_drop_b_t0, ch4_drop_b, co2_rise_b_t0, co2_rise_b), 650)

ax_ta.set_ylabel("Temperature [°C]", fontsize=19, color=TEXT, labelpad=6)
ax_fa.set_ylabel("molar fraction [mol/mol]", fontsize=19, color=TEXT, labelpad=6)

fig.savefig("out.png", dpi=100, facecolor="white")
